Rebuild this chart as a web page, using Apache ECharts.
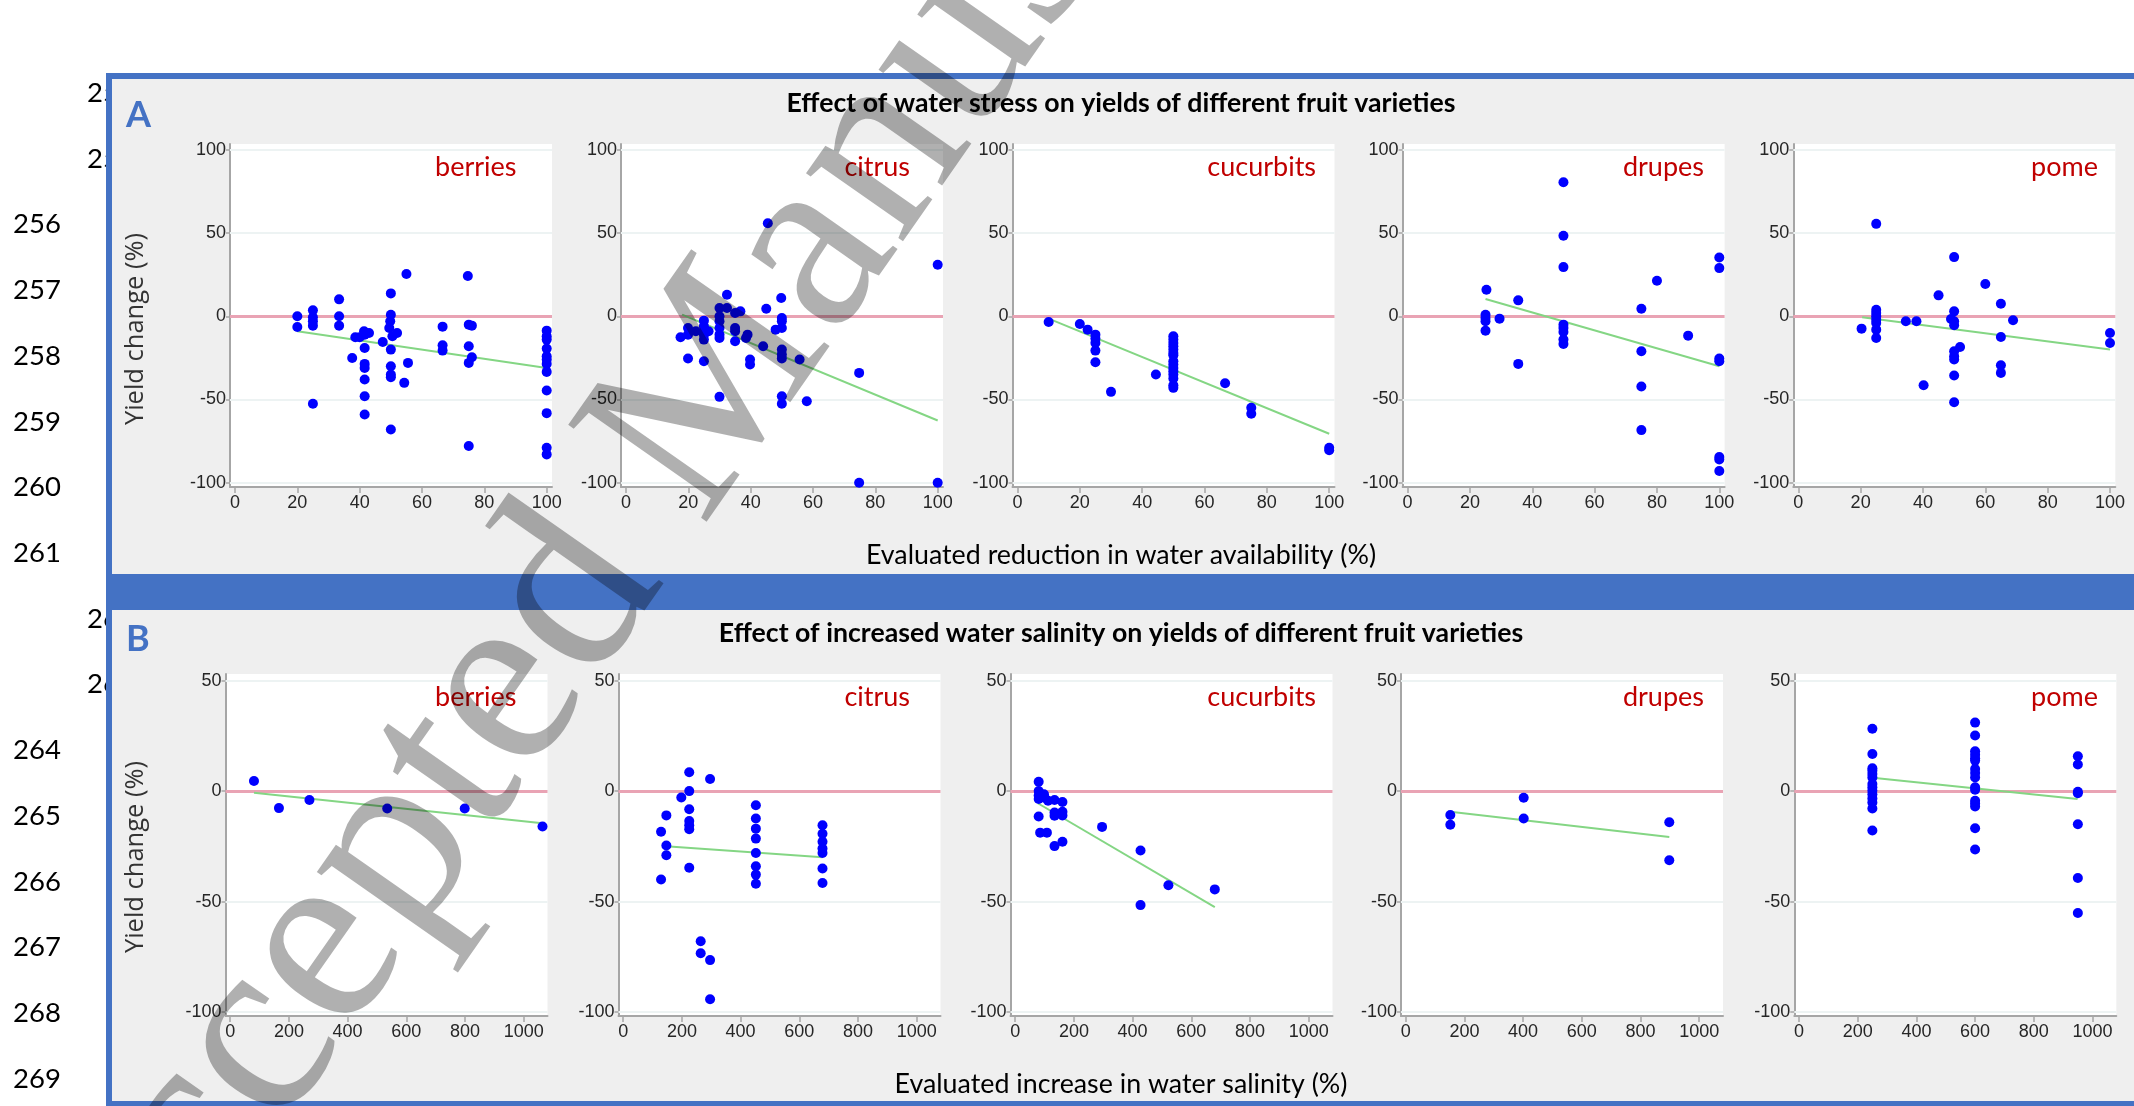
<!DOCTYPE html>
<html><head><meta charset="utf-8">
<script src="https://cdn.jsdelivr.net/npm/echarts@6/dist/echarts.min.js"></script>
<style>html,body{margin:0;padding:0;background:#fff;}#c{width:2134px;height:1106px;}</style>
</head><body><div id="c"></div><script>
// ---------- data ----------
const fruits = ['berries', 'citrus', 'cucurbits', 'drupes', 'pome'];
const xTicksA = [0, 20, 40, 60, 80, 100];
const yTicksA = [-100, -50, 0, 50, 100];
const xTicksB = [0, 200, 400, 600, 800, 1000];
const yTicksB = [-100, -50, 0, 50];
const titleA = 'Effect of water stress on yields of different fruit varieties';
const titleB = 'Effect of increased water salinity on yields of different fruit varieties';
const xLabelA = 'Evaluated reduction in water availability (%)';
const xLabelB = 'Evaluated increase in water salinity (%)';
const yLabel = 'Yield change (%)';
const lineNumbers = ['254','255','256','257','258','259','260','261','262','263','264','265','266','267','268','269'];
const watermark = 'Accepted Manuscript';

// Panel A: water stress (x = reduction %, y = yield change %)
const stressBerries = [[20,0],[20,-6.4],[25,3.6],[25,-0.6],[25,-3],[25,-5.6],[25,-52.6],[33.4,10.2],[33.4,0],[33.4,-5.6],[37.6,-25],[38.6,-12.6],[40,-12.6],[41.4,-9],[41.6,-11],[43,-10],[41.6,-19],[41.6,-28.6],[41.6,-31],[41.6,-38],[41.6,-48],[41.6,-59],[47.4,-15.4],[49.5,-7],[49.8,-3],[50,13.8],[50,1],[50,-20],[50,-30],[50,-35],[50,-36.6],[50,-68],[50.5,-12],[52,-10],[54.3,-40],[55,25.4],[55.5,-28],[66.6,-6.2],[66.6,-17.4],[66.6,-20.6],[74.7,24.2],[75,-5],[76,-5.6],[75,-18],[76,-24.6],[75,-28],[75,-78],[100,-8.6],[100,-12],[100,-14],[100,-19.4],[100,-24],[100,-26],[100,-28.6],[100,-33.4],[100,-44.6],[100,-58.2],[100,-79],[100,-83]];
const stressCitrus = [[17.5,-12.6],[19.9,-7],[19.9,-11],[19.9,-25.4],[22.4,-9],[25,-2.6],[25,-6],[25,-9],[25,-11],[25,-14],[25,-27],[26.5,-9],[30,5],[30,0],[30,-3],[30,-7],[30,-11],[30,-13],[30,-48.4],[32.4,13],[32.4,5],[35,-7],[35,-9],[35,-15],[35,2],[36.7,3],[38.5,-13],[39,-11],[39.8,-26],[39.8,-29],[44,-18],[45,4.6],[45.5,56],[48,-8],[49.8,11],[50,-1],[50,-3],[50,-7],[50,-20],[50,-23],[50,-25.4],[50,-48],[50,-52.6],[55.7,-26],[58,-51],[74.8,-34],[74.8,-100],[100,31],[100,-100]];
const stressCucurbits = [[10,-3.4],[20,-4.6],[22.5,-8],[25,-11],[25,-13.4],[25,-16],[25,-20.6],[25,-27.6],[30,-45.4],[44.4,-35],[50,-12],[50,-14],[50,-16],[50,-18],[50,-20],[50,-22],[50,-23.4],[50,-27],[50,-29],[50,-31],[50,-33],[50,-35],[50,-37.4],[50,-41.4],[50,-43],[66.6,-40.2],[75,-55],[75,-58.6],[100,-79],[100,-80.5]];
const stressDrupes = [[25.3,16],[25,1],[25,-1],[25,-3],[25,-8.6],[29.5,-1.4],[35.5,9.6],[35.5,-28.6],[50,80.6],[50,48.4],[50,29.6],[50,-5],[50,-7],[50,-9.4],[50,-14],[50,-16.6],[75,4.6],[75,-21],[75,-42.2],[75,-68.4],[80,21.4],[90,-11.6],[100,35.4],[100,29],[100,-25.4],[100,-27],[100,-84.6],[100,-86],[100,-93]];
const stressPome = [[20.3,-7.4],[25,55.6],[25,4],[25,2],[25,0],[25,-2],[25,-4],[25,-8],[25,-13],[34.5,-3],[37.9,-3],[40.2,-41.4],[45,12.6],[49,-1.6],[50,35.6],[50,3],[50,-3],[50,-5.4],[50,-21],[50,-24],[50,-26],[50,-35.6],[50,-51.6],[51.9,-18.4],[60,19.4],[65,7.6],[65,-12.4],[65,-29.4],[65,-34],[68.9,-2.4],[100,-10],[100,-16]];
const stressBerriesTrend = [[20,-9],[100,-31]];
const stressCitrusTrend = [[18,1],[100,-62.6]];
const stressCucurbitsTrend = [[10,-1.4],[100,-70.6]];
const stressDrupesTrend = [[25,10.4],[100,-30]];
const stressPomeTrend = [[20.5,-0.6],[100,-20]];

// Panel B: salinity (x = increase %, y = yield change %)
const salinityBerries = [[81,4.6],[166,-7.7],[270,-4],[535,-7.9],[799,-7.9],[1064,-16]];
const salinityCitrus = [[129,-18.4],[129,-40],[147,-11],[147,-24.6],[147,-29],[198,-2.9],[225,8.5],[225,0],[225,-8.2],[225,-13.5],[225,-15.5],[225,-17.3],[225,-34.7],[264,-68],[264,-73.4],[296,5.5],[296,-76.5],[296,-94.2],[452,-6.4],[452,-12.4],[452,-17],[452,-21.5],[452,-28],[452,-34],[452,-37.8],[452,-41.9],[679,-15.5],[679,-19.3],[679,-22.9],[679,-26],[679,-28],[679,-35],[679,-41.6]];
const salinityCucurbits = [[80,4.2],[80,0],[80,-2],[80,-3.6],[98,-1.4],[100,-3],[112,-4.4],[134,-4],[161,-4.9],[134,-9.7],[134,-11.2],[161,-9.4],[161,-11],[80,-11.5],[85,-18.8],[108,-18.8],[134,-24.9],[161,-22.9],[296,-16.2],[427,-26.9],[427,-51.6],[522,-42.6],[680,-44.5]];
const salinityDrupes = [[152,-10.8],[152,-15.2],[402,-3],[402,-12.4],[898,-14.1],[898,-31.3]];
const salinityPome = [[250,28.2],[250,16.8],[250,10.3],[250,9.2],[250,7.7],[250,6.2],[250,3.2],[250,1.7],[250,0.2],[250,-1.4],[250,-3.3],[250,-5.2],[250,-7.9],[250,-17.8],[600,31],[600,25.2],[600,18],[600,16.4],[600,14.9],[600,13.8],[600,10],[600,8.2],[600,6.2],[600,1.7],[600,0.6],[600,-4.4],[600,-5.6],[600,-7],[600,-16.8],[600,-26.4],[950,15.8],[950,12],[950,-0.3],[950,-1],[950,-15],[950,-39.3],[950,-55.2]];
const salinityBerriesTrend = [[81,-0.8],[1064,-14.6]];
const salinityCitrusTrend = [[133,-24.9],[679,-30]];
const salinityCucurbitsTrend = [[77,-5.5],[680,-52.5]];
const salinityDrupesTrend = [[152,-9.4],[898,-20.8]];
const salinityPomeTrend = [[251,6],[949,-3.6]];

// ---------- layout ----------
const stressPoints = [stressBerries, stressCitrus, stressCucurbits, stressDrupes, stressPome];
const stressTrends = [stressBerriesTrend, stressCitrusTrend, stressCucurbitsTrend, stressDrupesTrend, stressPomeTrend];
const salinityPoints = [salinityBerries, salinityCitrus, salinityCucurbits, salinityDrupes, salinityPome];
const salinityTrends = [salinityBerriesTrend, salinityCitrusTrend, salinityCucurbitsTrend, salinityDrupesTrend, salinityPomeTrend];

const panels = [
  {points: stressPoints, trends: stressTrends, xTicks: xTicksA, yTicks: yTicksA,
   lefts: [230, 621, 1012.5, 1402.6, 1793.3], top: 144, height: 343,
   xMin: -1.6, xMax: 101.7, yMin: -102.6, yMax: 103.6, labelY: 167},
  {points: salinityPoints, trends: salinityTrends, xTicks: xTicksB, yTicks: yTicksB,
   lefts: [225.5, 618.5, 1010.5, 1401, 1794.3], top: 674, height: 342,
   xMin: -16, xMax: 1081, yMin: -101.8, yMax: 53, labelY: 697}
];
const gridW = 322;
const labelRight = [516.5, 910, 1316, 1704, 2098];
const axisGray = '#a6a6a6';
const tickFont = 'Liberation Sans, Arial, sans-serif';
const calibriLike = 'Lato, Carlito, Calibri, sans-serif';
const plain = v => String(v);

const grid = [], xAxis = [], yAxis = [], series = [], graphic = [];
let gi = 0;
panels.forEach(p => {
  fruits.forEach((f, k) => {
    grid.push({left: p.lefts[k], top: p.top, width: gridW, height: p.height,
      show: true, backgroundColor: '#ffffff', borderWidth: 0});
    xAxis.push({type: 'value', gridIndex: gi, min: p.xMin, max: p.xMax,
      axisLine: {show: true, onZero: false, lineStyle: {color: axisGray, width: 2}},
      axisTick: {show: true, customValues: p.xTicks, length: 6, lineStyle: {color: axisGray, width: 1.5}},
      axisLabel: {customValues: p.xTicks, formatter: plain, color: '#262626', fontFamily: tickFont, fontSize: 18, margin: 7},
      splitLine: {show: false}});
    yAxis.push({type: 'value', gridIndex: gi, min: p.yMin, max: p.yMax,
      axisLine: {show: true, onZero: false, lineStyle: {color: axisGray, width: 2}},
      axisTick: {show: true, customValues: p.yTicks, length: 4, lineStyle: {color: axisGray, width: 1.5}},
      axisLabel: {customValues: p.yTicks, formatter: plain, color: '#262626', fontFamily: tickFont, fontSize: 18, margin: 4},
      splitLine: {show: false}});
    const mlData = p.yTicks.filter(v => v !== 0).map(v => ({yAxis: v, lineStyle: {color: '#edf3f3', width: 2, type: 'solid'}}));
    mlData.push({yAxis: 0, lineStyle: {color: '#e9a3b4', width: 3, type: 'solid'}});
    series.push({type: 'line', xAxisIndex: gi, yAxisIndex: gi, data: p.trends[k], z: 6,
      showSymbol: false, symbol: 'none', silent: true,
      lineStyle: {color: '#84d684', width: 2},
      markLine: {z: 1, silent: true, symbol: 'none', label: {show: false}, animation: false, data: mlData}});
    series.push({type: 'scatter', xAxisIndex: gi, yAxisIndex: gi, data: p.points[k], z: 7, clip: false,
      symbol: 'circle', symbolSize: 10, itemStyle: {color: '#0000ff', opacity: 1}});
    graphic.push({type: 'text', z: 10, x: labelRight[k], y: p.labelY,
      style: {text: f, fill: '#c00000', font: '27px ' + calibriLike, align: 'right', verticalAlign: 'middle'}});
    gi++;
  });
});

// frame & background (behind grids)
graphic.push({type: 'rect', z: -5, shape: {x: 106, y: 73, width: 2040, height: 1040}, style: {fill: '#4472c4'}});
graphic.push({type: 'rect', z: -4, shape: {x: 112, y: 79, width: 2030, height: 495}, style: {fill: '#efefef'}});
graphic.push({type: 'rect', z: -4, shape: {x: 112, y: 610, width: 2030, height: 491}, style: {fill: '#efefef'}});
// line numbers (two of each block partly hidden behind the frame)
lineNumbers.forEach((t, i) => {
  const hidden = (i === 0 || i === 1 || i === 8 || i === 9);
  graphic.push({type: 'text', z: -6, x: hidden ? 87 : 13, y: 93 + i * 65.73,
    style: {text: t, fill: '#000', font: '27.5px ' + calibriLike, align: 'left', verticalAlign: 'middle'}});
});
// panel letters and titles
graphic.push({type: 'text', z: 10, x: 126, y: 115, style: {text: 'A', fill: '#4472c4', font: 'bold 36px ' + calibriLike, align: 'left', verticalAlign: 'middle'}});
graphic.push({type: 'text', z: 10, x: 126, y: 639, style: {text: 'B', fill: '#4472c4', font: 'bold 36px ' + calibriLike, align: 'left', verticalAlign: 'middle'}});
graphic.push({type: 'text', z: 10, x: 1121, y: 103, style: {text: titleA, fill: '#000', font: 'bold 26.7px ' + calibriLike, align: 'center', verticalAlign: 'middle'}});
graphic.push({type: 'text', z: 10, x: 1121, y: 633, style: {text: titleB, fill: '#000', font: 'bold 26.7px ' + calibriLike, align: 'center', verticalAlign: 'middle'}});
graphic.push({type: 'text', z: 10, x: 1121, y: 555, style: {text: xLabelA, fill: '#000', font: '26.8px ' + calibriLike, align: 'center', verticalAlign: 'middle'}});
graphic.push({type: 'text', z: 10, x: 1121, y: 1084, style: {text: xLabelB, fill: '#000', font: '26.8px ' + calibriLike, align: 'center', verticalAlign: 'middle'}});
graphic.push({type: 'text', z: 10, x: 136, y: 329, rotation: Math.PI / 2, style: {text: yLabel, fill: '#333', font: '25.5px "Open Sans", sans-serif', align: 'center', verticalAlign: 'middle'}});
graphic.push({type: 'text', z: 10, x: 136, y: 857, rotation: Math.PI / 2, style: {text: yLabel, fill: '#333', font: '25.5px "Open Sans", sans-serif', align: 'center', verticalAlign: 'middle'}});
// watermark
graphic.push({type: 'text', z: 100, x: 686, y: 433, rotation: 55 * Math.PI / 180, silent: true,
  style: {text: watermark, fill: 'rgba(0,0,0,0.31)', font: '258px "Liberation Serif", "Times New Roman", serif', align: 'center', verticalAlign: 'middle'}});

const chart = echarts.init(document.getElementById('c'));
chart.setOption({animation: false, backgroundColor: '#ffffff', grid, xAxis, yAxis, series, graphic});
</script></body></html>
